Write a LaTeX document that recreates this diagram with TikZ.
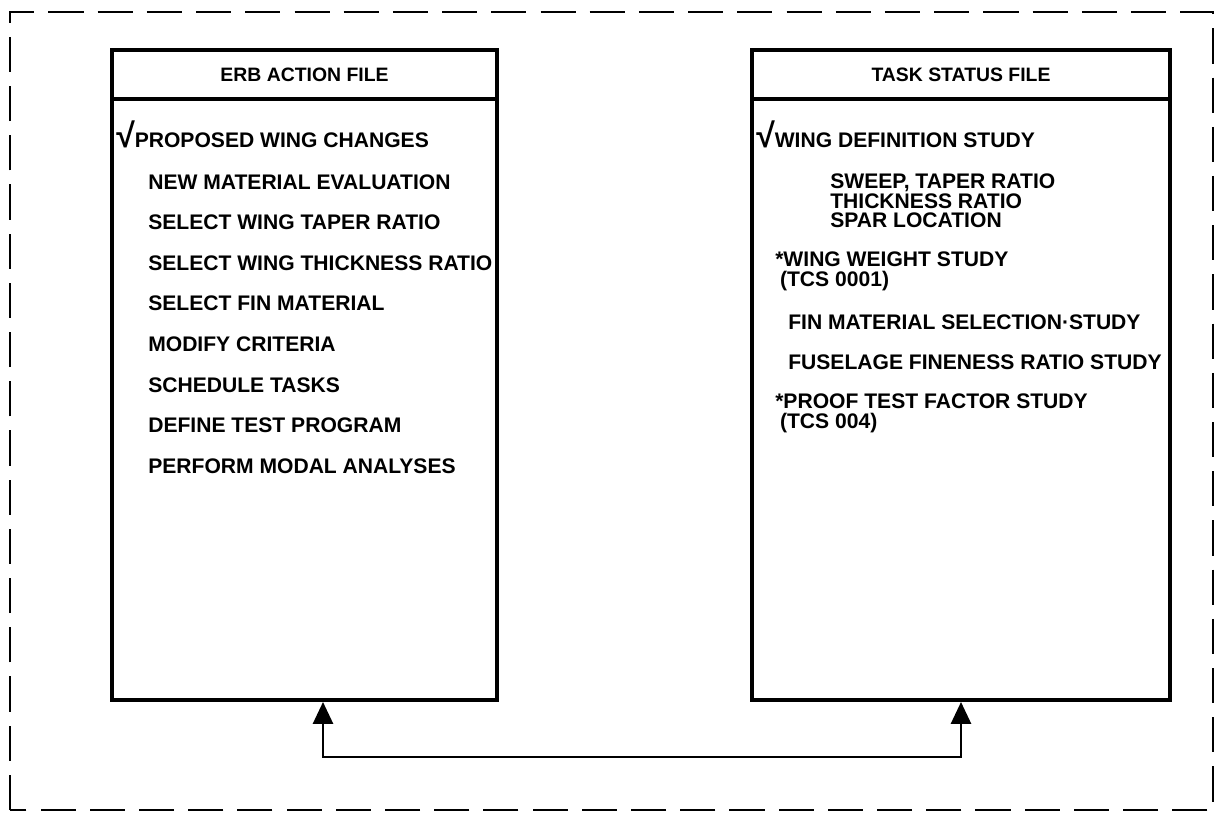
\documentclass[tikz,border=0pt]{standalone}
\usepackage{fontspec}
\setmainfont{Liberation Sans}
\usepackage{tikz}
\usetikzlibrary{arrows.meta}
\tikzset{
    filebox/.style={rectangle, draw, line width=2.8pt, inner sep=0pt},
    filehead/.style={filebox, font=\fontsize{13.8}{16}\selectfont\bfseries},
    entry/.style={anchor=west, inner sep=0pt, align=left,
        font=\fontsize{15}{14}\selectfont\bfseries}
}
\tikzset{
    link/.style={line width=2pt, {Triangle[length=0.55cm, width=0.5cm]}-{Triangle[length=0.55cm, width=0.5cm]}}
}
\newcommand{\tick}{\raisebox{0pt}[0pt][0pt]{\fontsize{24}{21}\selectfont √}}

\begin{document}
\begin{tikzpicture}
	\useasboundingbox (0cm, 0cm) rectangle (30.4cm, 20.375cm);
	% outer frame
	\draw[line width=1.9pt, dash pattern=on 25pt off 10pt] (0.25cm, 0.125cm) rectangle (30.325cm, 20.075cm);

	% ERB action file
	\node (erbhead) [filehead, minimum width=9.625cm, minimum height=1.225cm] at ( 7.6125cm, 18.5125cm) {ERB ACTION FILE};
	\node (erbbody) [filebox, minimum width=9.625cm, minimum height=15.025cm] at ( 7.6125cm, 10.3875cm) {};
	\node (erb1) [entry] at ( 2.9cm, 16.875cm) {\tick PROPOSED WING CHANGES};
	\node (erb2) [entry] at ( 3.7cm, 15.825cm) {NEW MATERIAL EVALUATION};
	\node (erb3) [entry] at ( 3.7cm, 14.825cm) {SELECT WING TAPER RATIO};
	\node (erb4) [entry] at ( 3.7cm, 13.8cm) {SELECT WING THICKNESS RATIO};
	\node (erb5) [entry] at ( 3.7cm, 12.8cm) {SELECT FIN MATERIAL};
	\node (erb6) [entry] at ( 3.7cm, 11.775cm) {MODIFY CRITERIA};
	\node (erb7) [entry] at ( 3.7cm, 10.75cm) {SCHEDULE TASKS};
	\node (erb8) [entry] at ( 3.7cm,  9.75cm) {DEFINE TEST PROGRAM};
	\node (erb9) [entry] at ( 3.7cm,  8.725cm) {PERFORM MODAL ANALYSES};

	% task status file
	\node (taskhead) [filehead, minimum width=10.45cm, minimum height=1.225cm] at (24.025cm, 18.5125cm) {TASK STATUS FILE};
	\node (taskbody) [filebox, minimum width=10.45cm, minimum height=15.025cm] at (24.025cm, 10.3875cm) {};
	\node (task1) [entry] at (18.9cm, 16.875cm) {\tick WING DEFINITION STUDY};
	\node (task2) [entry] at (20.75cm, 15.35cm) {SWEEP, TAPER RATIO\\THICKNESS RATIO\\SPAR LOCATION};
	\node (task3) [entry] at (19.375cm, 13.6cm) {*WING WEIGHT STUDY\\\hspace{0.12cm}(TCS 0001)};
	\node (task4) [entry] at (19.7cm, 12.325cm) {FIN MATERIAL SELECTION·STUDY};
	\node (task5) [entry] at (19.7cm, 11.325cm) {FUSELAGE FINENESS RATIO STUDY};
	\node (task6) [entry] at (19.375cm, 10.05cm) {*PROOF TEST FACTOR STUDY\\\hspace{0.12cm}(TCS 004)};

	% link between the files
	\coordinate (erbfoot) at ( 8.075cm, 1.45cm);
	\coordinate (taskfoot) at (24.025cm, 1.45cm);
	\draw[link] (erbbody.south -| erbfoot) -- (erbfoot) -- (taskfoot) -- (taskbody.south -| taskfoot);
\end{tikzpicture}
\end{document}
